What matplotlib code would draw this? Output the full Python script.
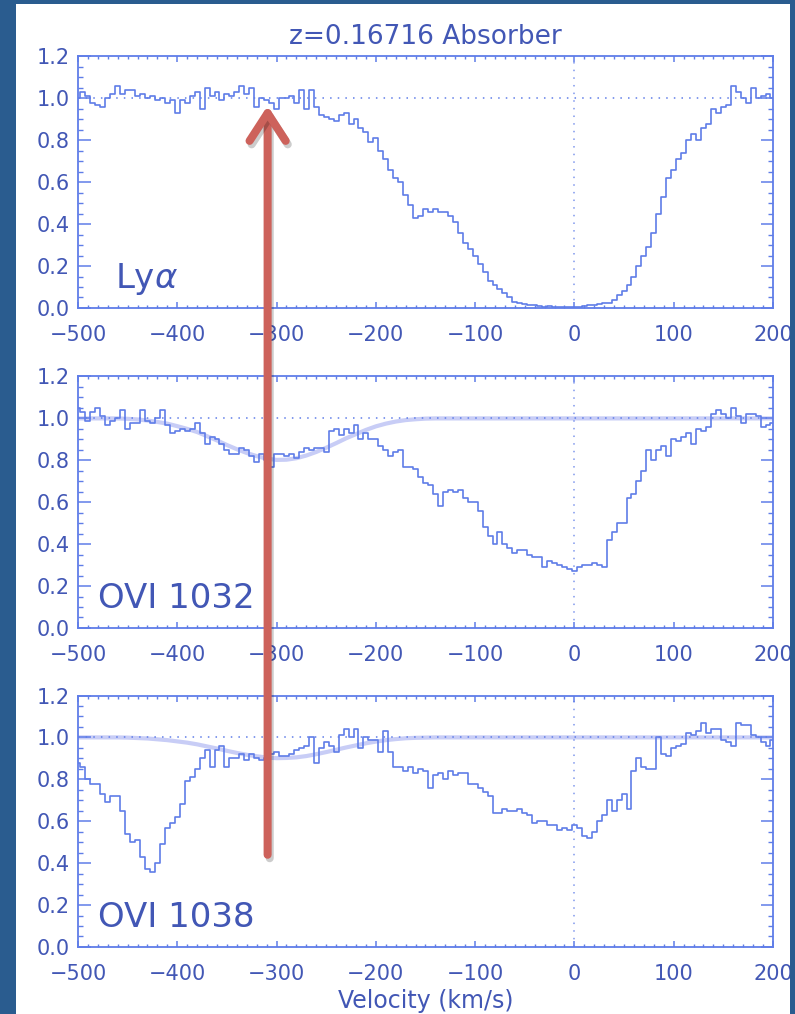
import numpy as np
import matplotlib
matplotlib.use("Agg")
import matplotlib.pyplot as plt
import matplotlib.patheffects as pe
from matplotlib.patches import Rectangle, ConnectionPatch
from matplotlib.ticker import MultipleLocator, FormatStrFormatter

# velocity bins (km/s), 5 km/s wide
velocity = np.arange(-500, 201, 5)

# normalised flux, one row per 50 km/s
lya_flux = [
    1.00, 1.03, 1.01, 0.98, 0.97, 0.96, 1.00, 1.02, 1.06, 1.02,
    1.04, 1.04, 1.01, 1.02, 1.00, 1.01, 0.99, 1.00, 0.98, 0.99,
    0.93, 0.99, 0.98, 1.01, 1.03, 0.95, 1.05, 1.01, 1.03, 0.99,
    1.02, 1.01, 1.03, 1.06, 1.02, 1.05, 0.96, 1.00, 0.99, 0.98,
    0.95, 1.00, 1.00, 1.01, 0.98, 1.04, 0.95, 1.04, 0.96, 0.92,
    0.91, 0.90, 0.89, 0.92, 0.93, 0.88, 0.90, 0.86, 0.84, 0.79,
    0.81, 0.75, 0.71, 0.66, 0.62, 0.60, 0.54, 0.49, 0.43, 0.44,
    0.47, 0.46, 0.47, 0.46, 0.46, 0.44, 0.41, 0.36, 0.31, 0.28,
    0.25, 0.21, 0.17, 0.13, 0.11, 0.09, 0.07, 0.05, 0.03, 0.025,
    0.02, 0.015, 0.015, 0.01, 0.005, 0.008, 0.005, 0.004, 0.005, 0.004,
    0.006, 0.004, 0.01, 0.012, 0.015, 0.02, 0.025, 0.025, 0.04, 0.06,
    0.08, 0.11, 0.15, 0.20, 0.25, 0.29, 0.36, 0.45, 0.53, 0.62,
    0.66, 0.71, 0.74, 0.80, 0.83, 0.80, 0.86, 0.88, 0.95, 0.93,
    0.96, 0.97, 1.06, 1.03, 1.00, 0.98, 1.05, 1.00, 1.01, 1.02,
    1.00,
]

o6_1032_flux = [
    1.05, 1.03, 0.99, 1.03, 1.05, 1.01, 0.97, 0.99, 1.00, 1.04,
    0.95, 0.98, 0.98, 1.04, 0.99, 0.98, 1.00, 1.04, 0.97, 0.93,
    0.94, 0.95, 0.94, 0.95, 0.98, 0.93, 0.88, 0.91, 0.90, 0.88,
    0.85, 0.83, 0.83, 0.86, 0.85, 0.82, 0.79, 0.83, 0.80, 0.77,
    0.83, 0.83, 0.82, 0.83, 0.81, 0.84, 0.86, 0.85, 0.86, 0.86,
    0.84, 0.94, 0.95, 0.92, 0.95, 0.93, 0.97, 0.90, 0.93, 0.90,
    0.90, 0.87, 0.85, 0.82, 0.84, 0.85, 0.77, 0.77, 0.76, 0.72,
    0.69, 0.68, 0.64, 0.58, 0.65, 0.66, 0.65, 0.66, 0.62, 0.60,
    0.60, 0.56, 0.48, 0.44, 0.40, 0.46, 0.40, 0.38, 0.36, 0.37,
    0.37, 0.35, 0.34, 0.34, 0.29, 0.32, 0.31, 0.30, 0.29, 0.28,
    0.27, 0.29, 0.30, 0.30, 0.31, 0.30, 0.29, 0.42, 0.46, 0.50,
    0.50, 0.62, 0.64, 0.70, 0.75, 0.85, 0.80, 0.85, 0.87, 0.82,
    0.90, 0.89, 0.91, 0.93, 0.88, 0.95, 0.94, 0.96, 1.02, 1.04,
    1.02, 1.00, 1.05, 1.01, 0.98, 1.02, 1.02, 1.01, 0.96, 0.97,
    0.98,
]

o6_1038_flux = [
    0.88, 0.86, 0.80, 0.78, 0.78, 0.73, 0.69, 0.72, 0.72, 0.65,
    0.54, 0.50, 0.51, 0.43, 0.37, 0.36, 0.40, 0.49, 0.57, 0.59,
    0.62, 0.68, 0.79, 0.81, 0.85, 0.90, 0.94, 0.86, 0.94, 0.96,
    0.86, 0.90, 0.90, 0.92, 0.89, 0.92, 0.90, 0.89, 0.90, 0.92,
    0.93, 0.91, 0.91, 0.92, 0.94, 0.95, 0.96, 1.00, 0.88, 0.95,
    0.98, 0.96, 0.93, 1.01, 1.04, 1.00, 1.04, 0.95, 1.00, 0.99,
    0.99, 0.93, 1.03, 0.93, 0.86, 0.86, 0.84, 0.86, 0.83, 0.85,
    0.84, 0.76, 0.82, 0.83, 0.80, 0.84, 0.82, 0.83, 0.83, 0.78,
    0.78, 0.76, 0.74, 0.72, 0.64, 0.64, 0.66, 0.65, 0.65, 0.66,
    0.64, 0.63, 0.59, 0.60, 0.60, 0.58, 0.58, 0.56, 0.57, 0.56,
    0.58, 0.57, 0.53, 0.52, 0.55, 0.60, 0.63, 0.70, 0.65, 0.70,
    0.73, 0.66, 0.84, 0.90, 0.86, 0.85, 0.85, 1.00, 0.92, 0.91,
    0.95, 0.96, 0.97, 1.02, 1.01, 1.03, 1.07, 1.02, 1.04, 1.04,
    0.99, 0.98, 0.96, 1.07, 1.06, 1.06, 1.01, 1.00, 0.98, 0.96,
    0.99,
]

# fitted OVI component profiles
fit_velocity = [-500, -460, -450, -440, -430, -420, -410, -400, -390, -380,
                -370, -360, -350, -340, -330, -320, -310, -300, -290, -280,
                -270, -260, -250, -240, -230, -220, -210, -200, -190, -180,
                -170, -160, -150, -140, 200]
o6_1032_fit = [1.0, 1.0, 0.998, 0.995, 0.99, 0.983, 0.975, 0.963, 0.95, 0.935,
               0.915, 0.895, 0.873, 0.853, 0.835, 0.82, 0.808, 0.802, 0.803, 0.81,
               0.823, 0.84, 0.86, 0.882, 0.905, 0.925, 0.945, 0.962, 0.975, 0.985,
               0.992, 0.996, 0.999, 1.0, 1.0]
o6_1038_fit = [1.0, 1.0, 0.999, 0.997, 0.995, 0.991, 0.987, 0.981, 0.975, 0.967,
               0.957, 0.947, 0.936, 0.926, 0.917, 0.91, 0.904, 0.901, 0.902, 0.905,
               0.911, 0.92, 0.93, 0.941, 0.952, 0.962, 0.972, 0.98, 0.987, 0.992,
               0.996, 0.998, 0.999, 1.0, 1.0]

panel_labels = [r"Ly$\alpha$", "OVI 1032", "OVI 1038"]
label_x = [-463, -480, -480]

line_col = "#5f7de8"
text_col = "#4257b5"
fit_col = "#c8cdf6"
arrow_col = "#cd625b"
border_col = "#2a5c8f"

fig = plt.figure(figsize=(7.95, 10.14), dpi=100, facecolor="white")

bottoms = [0.6963, 0.3807, 0.0661]
axes = []
fluxes = [lya_flux, o6_1032_flux, o6_1038_flux]
fits = [None, o6_1032_fit, o6_1038_fit]
for i in range(3):
    ax = fig.add_axes([0.0981, bottoms[i], 0.8742, 0.2480])
    if fits[i] is not None:
        ax.plot(fit_velocity, fits[i], color=fit_col, lw=3, zorder=1,
                solid_capstyle="round")
    ax.axhline(1.0, color=line_col, lw=1.1, ls=(0, (1, 4)), zorder=1.5)
    ax.axvline(0, color=line_col, lw=1.1, ls=(0, (1, 4)), alpha=0.8, zorder=1.5)
    ax.plot(velocity, fluxes[i], drawstyle="steps-mid", color=line_col, lw=1.2, zorder=2)

    ax.set_xlim(-500, 200)
    ax.set_ylim(0, 1.2)
    ax.xaxis.set_major_locator(MultipleLocator(100))
    ax.xaxis.set_minor_locator(MultipleLocator(10))
    ax.yaxis.set_major_locator(MultipleLocator(0.2))
    ax.yaxis.set_minor_locator(MultipleLocator(0.05))
    ax.yaxis.set_major_formatter(FormatStrFormatter("%.1f"))
    ax.tick_params(which="both", direction="in", top=True, right=True,
                   colors=line_col, labelcolor=text_col, labelsize=15)
    ax.tick_params(axis="y", which="major", length=9, width=1.1, pad=6)
    ax.tick_params(axis="y", which="minor", length=3.5, width=1)
    ax.tick_params(axis="x", which="major", length=4, width=1.1, pad=12)
    ax.tick_params(axis="x", which="minor", length=2, width=1)
    for s in ax.spines.values():
        s.set_color(line_col)
        s.set_linewidth(1.3)

    ax.text(label_x[i], 0.095, panel_labels[i], fontsize=24.5, color=text_col,
            va="baseline", ha="left")
    axes.append(ax)

axes[0].set_title("z=0.16716 Absorber", fontsize=19, color=text_col, pad=9)
axes[2].set_xlabel("Velocity (km/s)", fontsize=17, color=text_col, labelpad=4)

# arrow marking -310 km/s across all three panels
arrow = ConnectionPatch(xyA=(-309, 0.44), coordsA=axes[2].transData,
                        xyB=(-309, 0.965), coordsB=axes[0].transData,
                        arrowstyle="->,head_length=2.0,head_width=1.3",
                        mutation_scale=10, lw=5.8, color=arrow_col,
                        capstyle="round", joinstyle="round",
                        shrinkA=0, shrinkB=0, zorder=6)
arrow.set_path_effects([pe.SimpleLineShadow(offset=(1.5, -2.5), shadow_color="black",
                                            alpha=0.2), pe.Normal()])
fig.add_artist(arrow)

# slide frame around the plot
W, H = 795.0, 1014.0
for rect in [(0, 0, 16 / W, 1), (0, 1 - 4 / H, 1, 4 / H), (790 / W, 0, 5 / W, 1)]:
    fig.add_artist(Rectangle(rect[:2], rect[2], rect[3], transform=fig.transFigure,
                             facecolor=border_col, edgecolor="none", zorder=10))

fig.savefig("out.png", dpi=100)
